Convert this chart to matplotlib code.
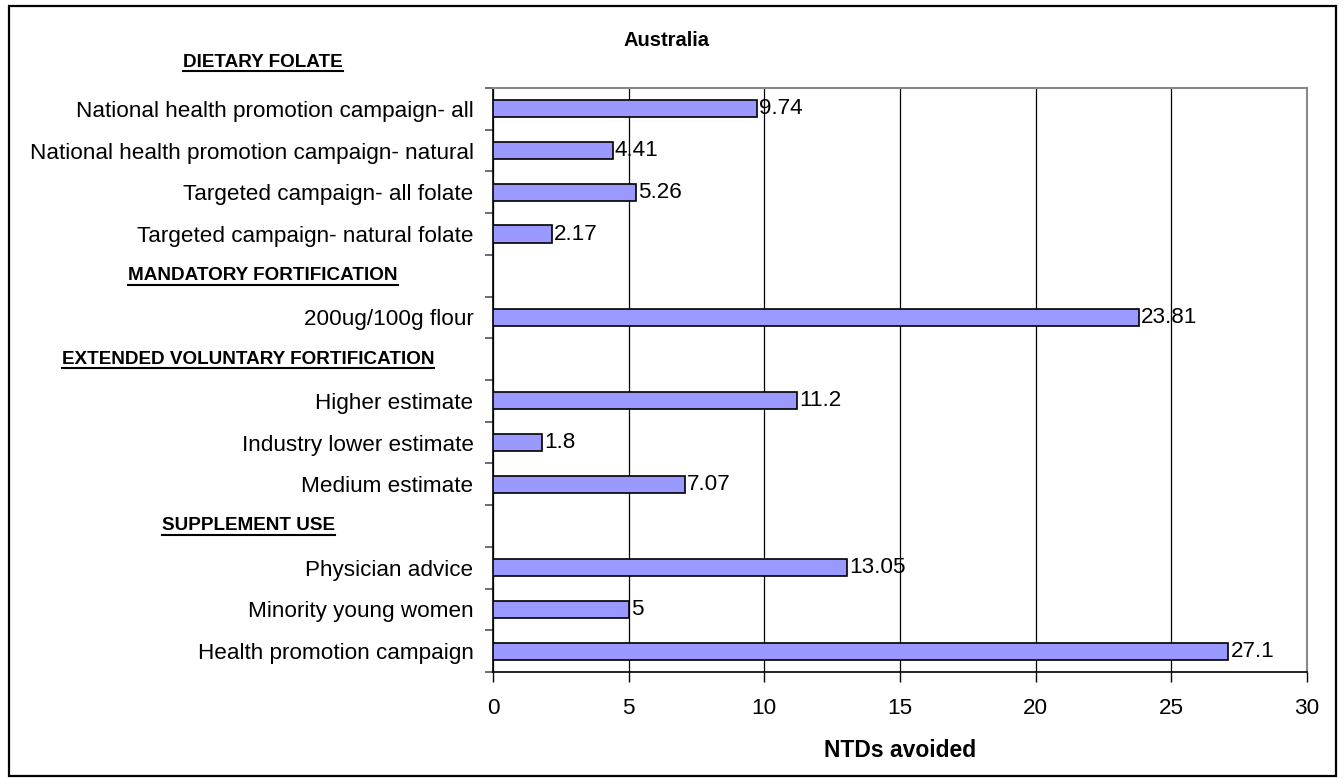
import matplotlib
matplotlib.use("Agg")
import matplotlib.pyplot as plt
from matplotlib.lines import Line2D
from matplotlib.patches import Rectangle
import matplotlib.transforms as mtransforms

plt.rcParams['font.family'] = ['Liberation Sans', 'DejaVu Sans']

# ---- data ----
rows = ["National health promotion campaign- all",
        "National health promotion campaign- natural",
        "Targeted campaign- all folate",
        "Targeted campaign- natural folate",
        "MANDATORY FORTIFICATION",
        "200ug/100g flour",
        "EXTENDED VOLUNTARY FORTIFICATION",
        "Higher estimate",
        "Industry lower estimate",
        "Medium estimate",
        "SUPPLEMENT USE",
        "Physician advice",
        "Minority young women",
        "Health promotion campaign"]
values = [9.74, 4.41, 5.26, 2.17, None, 23.81, None, 11.2, 1.8, 7.07, None, 13.05, 5, 27.1]
top_header = "DIETARY FOLATE"
title = "Australia"
xlabel = "NTDs avoided"
xticks = [0, 5, 10, 15, 20, 25, 30]

W, H = 1344, 778
FS = 16.2
fig = plt.figure(figsize=(W / 100, H / 100), dpi=100)
ax = fig.add_axes([493 / W, 1 - 672 / H, (1307 - 493) / W, (672 - 88) / H])

n = len(rows)
bar_rows = [i for i, v in enumerate(values) if v is not None]
bar_vals = [values[i] for i in bar_rows]
ax.barh(bar_rows, bar_vals, height=0.41, color='#9999FF', edgecolor='black', linewidth=1.2, zorder=3)
for i, v in zip(bar_rows, bar_vals):
    ax.annotate(f"{v:g}", (v, i), xytext=(1.5, 0), textcoords='offset points',
                va='center', ha='left', fontsize=FS, zorder=4)

ax.set_xlim(0, 30)
ax.set_ylim(n - 0.5, -0.5)
ax.set_xticks(xticks)
ax.set_xticklabels([str(t) for t in xticks], fontsize=FS)
ax.tick_params(axis='x', length=7, width=1, direction='out', pad=12, color='black')
ax.grid(axis='x', color='black', linewidth=0.9, zorder=1)

ax.set_yticks(bar_rows)
ax.set_yticklabels([rows[i] for i in bar_rows], fontsize=FS)
ax.tick_params(axis='y', which='major', length=0, pad=14)
ax.set_yticks([i - 0.5 for i in range(n + 1)], minor=True)
ax.tick_params(axis='y', which='minor', length=6, width=1.2, color='#555555', direction='out')

for s in ['top', 'right']:
    ax.spines[s].set_color('#888888')
    ax.spines[s].set_linewidth(1.5)
for s in ['left', 'bottom']:
    ax.spines[s].set_color('black')
    ax.spines[s].set_linewidth(1.2)

ax.set_xlabel(xlabel, fontsize=16.5, fontweight='bold', labelpad=14)
fig.text(667 / W, 1 - 40 / H, title, fontsize=14.5, fontweight='bold', ha='center', va='center')

# headers
header_rows = [i for i, v in enumerate(values) if v is None]
header_items = [(top_header, -1.12, 263)] + [(rows[i], i, c) for i, c in zip(header_rows, [263, 248, 248])]
blend = mtransforms.blended_transform_factory(fig.transFigure, ax.transData)
texts = []
for txt, y, cx in header_items:
    t = ax.text(cx / W, y, txt, transform=blend, fontsize=13.6, fontweight='bold',
                ha='center', va='center', clip_on=False)
    texts.append(t)

fig.canvas.draw()
r = fig.canvas.get_renderer()
for t in texts:
    bb = t.get_window_extent(r)
    yline = bb.y0 - 0.5
    fig.add_artist(Line2D([bb.x0 / W, bb.x1 / W], [yline / H, yline / H],
                          transform=fig.transFigure, color='black', linewidth=1.5))

# figure border
fig.add_artist(Rectangle((9 / W, 2 / H), (1336 - 9) / W, (772 - 2) / H,
                         transform=fig.transFigure, fill=False, edgecolor='black', linewidth=1.6))

fig.savefig("out.png", dpi=100)
